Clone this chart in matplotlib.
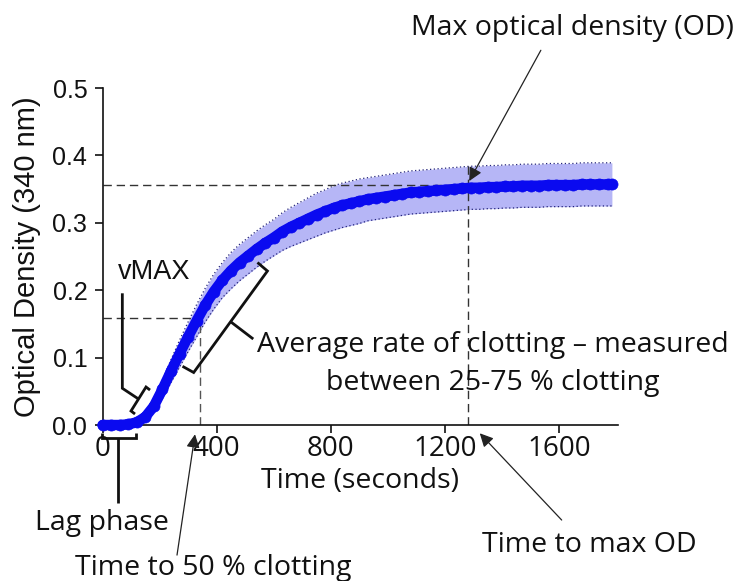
import matplotlib
matplotlib.use("Agg")
import matplotlib.pyplot as plt
import numpy as np

# Clotting curve: mean optical density and spread at each reading time
time_s = [0, 30, 60, 90, 120, 150, 180, 210, 240, 270,
          300, 330, 360, 390, 420, 450, 480, 510, 540, 570,
          600, 630, 660, 690, 720, 750, 780, 810, 840, 870,
          900, 930, 960, 990, 1020, 1050, 1080, 1110, 1140, 1170,
          1200, 1230, 1260, 1290, 1320, 1350, 1380, 1410, 1440, 1470,
          1500, 1530, 1560, 1590, 1620, 1650, 1680, 1710, 1740, 1770, 1785]
od_mean = [0.000, 0.000, 0.000, 0.001, 0.004, 0.012, 0.028, 0.053, 0.080, 0.106,
           0.131, 0.155, 0.178, 0.198, 0.215, 0.229, 0.241, 0.251, 0.261, 0.270,
           0.278, 0.287, 0.294, 0.300, 0.306, 0.312, 0.317, 0.322, 0.326, 0.329,
           0.332, 0.335, 0.337, 0.339, 0.341, 0.343, 0.345, 0.346, 0.347, 0.348,
           0.349, 0.350, 0.351, 0.352, 0.352, 0.353, 0.353, 0.354, 0.354, 0.355,
           0.355, 0.355, 0.356, 0.356, 0.356, 0.356, 0.357, 0.357, 0.357, 0.357, 0.357]
od_sd = [0.000, 0.000, 0.000, 0.001, 0.003, 0.006, 0.010, 0.014, 0.017, 0.020,
         0.022, 0.024, 0.025, 0.026, 0.026, 0.027, 0.027, 0.027, 0.027, 0.027,
         0.027, 0.028, 0.029, 0.030, 0.031, 0.032, 0.032, 0.033, 0.033, 0.033,
         0.033, 0.032, 0.032, 0.032, 0.032, 0.032, 0.032, 0.032, 0.032, 0.032,
         0.032, 0.032, 0.032, 0.032, 0.032, 0.032, 0.032, 0.032, 0.032, 0.032,
         0.032, 0.032, 0.032, 0.032, 0.032, 0.032, 0.032, 0.032, 0.032, 0.032, 0.032]

x_ticks = [0, 400, 800, 1200, 1600]
y_ticks = [0.0, 0.1, 0.2, 0.3, 0.4, 0.5]

# Derived curve parameters marked on the plot
max_od = 0.356
time_max_od = 1281
half_od = 0.159
time_half = 343

ARIAL = "Liberation Sans"
CALIBRI = "Open Sans"
NOTE_SIZE = 20.5
INK = "#111111"

fig = plt.figure(figsize=(7.43, 5.81), dpi=100)
ax = fig.add_axes([0.138, 0.2685, 0.694, 0.58])
ax.set_xlim(0, 1807)
ax.set_ylim(0, 0.5)

t = np.array(time_s)
m = np.array(od_mean)
s = np.array(od_sd)

# SD band with dotted edges
ax.fill_between(t, m - s, m + s, color="#b6b6f6", lw=0, zorder=1)
ax.plot(t, m + s, ls=(0, (1, 2)), color="#23237a", lw=0.9, zorder=1.5)
ax.plot(t, m - s, ls=(0, (1, 2)), color="#23237a", lw=0.9, zorder=1.5)

# Reference lines for max OD and 50 % clotting
dash = (0, (6, 3.5))
ax.plot([0, time_max_od], [max_od, max_od], ls=dash, color="#333333", lw=1.0, zorder=2)
ax.plot([time_max_od, time_max_od], [0, np.interp(time_max_od, t, m + s)],
        ls=dash, color="#333333", lw=1.0, zorder=2)
ax.plot([0, time_half], [half_od, half_od], ls=dash, color="#333333", lw=1.0, zorder=2)
ax.plot([time_half, time_half], [0, half_od], ls=dash, color="#555555", lw=1.0, zorder=2)

# Mean curve
ax.plot(t, m, color="#0a0af0", lw=7.5, solid_capstyle="round", marker="o", ms=8,
        mfc="#0a0af0", mec="#0a0af0", mew=0.5, zorder=3, clip_on=False)

# Axes styling
for side in ("top", "right"):
    ax.spines[side].set_visible(False)
for side in ("left", "bottom"):
    ax.spines[side].set_linewidth(1.2)
    ax.spines[side].set_color(INK)
ax.set_xticks(x_ticks)
ax.set_yticks(y_ticks)
ax.set_xticklabels([str(v) for v in x_ticks], fontfamily=CALIBRI, fontsize=20)
ax.set_yticklabels([f"{v:.1f}" for v in y_ticks], fontfamily=ARIAL, fontsize=18)
ax.tick_params(axis="both", direction="out", length=6, width=1.2, color=INK, labelcolor=INK)
ax.tick_params(axis="x", pad=1)
ax.tick_params(axis="y", pad=5)

ax.set_ylabel("Optical Density (340 nm)", fontfamily=ARIAL, fontsize=21, color=INK)
ax.yaxis.set_label_coords(-0.12, 0.5)
ax.set_xlabel("Time (seconds)", fontfamily=CALIBRI, fontsize=NOTE_SIZE, color=INK)
ax.xaxis.set_label_coords(0.5, -0.125)

line_kw = dict(color=INK, lw=2.0, solid_capstyle="butt", solid_joinstyle="miter",
               clip_on=False, zorder=4)
note_kw = dict(ha="center", va="center", fontfamily=CALIBRI, fontsize=NOTE_SIZE,
               color=INK)

# Lag phase bracket
ax.plot([-2, -2, 116, 116], [-0.012, -0.0197, -0.0197, -0.012], **line_kw)
ax.plot([54, 54], [-0.0197, -0.116], **line_kw)
ax.text(-2, -0.146, "Lag phase", **note_kw)

# vMAX bracket
ax.plot([113.8, 99.8, 152.4, 166.4], [0.0163, 0.0208, 0.0564, 0.0519], **line_kw)
ax.plot([69.4, 69.4, 126.0], [0.1954, 0.0545, 0.0386], **line_kw)
ax.text(180, 0.227, "vMAX", ha="center", va="center", fontfamily=ARIAL,
        fontsize=19.5, color=INK)

# Average rate bracket (25-75 % clotting)
ax.plot([280.2, 319.4, 577.9, 542.9], [0.0871, 0.0779, 0.2285, 0.2411], **line_kw)
ax.plot([448.7, 528.2], [0.1533, 0.1276], **line_kw)
ax.text(1369, 0.1187, "Average rate of clotting \u2013 measured", **note_kw)
ax.text(1369, 0.0623, "between 25-75 % clotting", **note_kw)

# Arrow annotations
arrow_kw = dict(arrowstyle="-|>", color="#222222", lw=0.9, mutation_scale=20,
                shrinkA=0, shrinkB=0)
ax.annotate("", xy=(1285, 0.362), xytext=(1536, 0.556), arrowprops=arrow_kw,
            annotation_clip=False)
ax.text(1645, 0.589, "Max optical density (OD)", **note_kw)

ax.annotate("", xy=(324, -0.0138), xytext=(261, -0.193), arrowprops=arrow_kw,
            annotation_clip=False)
ax.text(389, -0.212, "Time to 50 % clotting", **note_kw)

ax.annotate("", xy=(1322, -0.0123), xytext=(1609, -0.141), arrowprops=arrow_kw,
            annotation_clip=False)
ax.text(1705, -0.178, "Time to max OD", **note_kw)

fig.savefig("out.png", dpi=100, facecolor="white")
